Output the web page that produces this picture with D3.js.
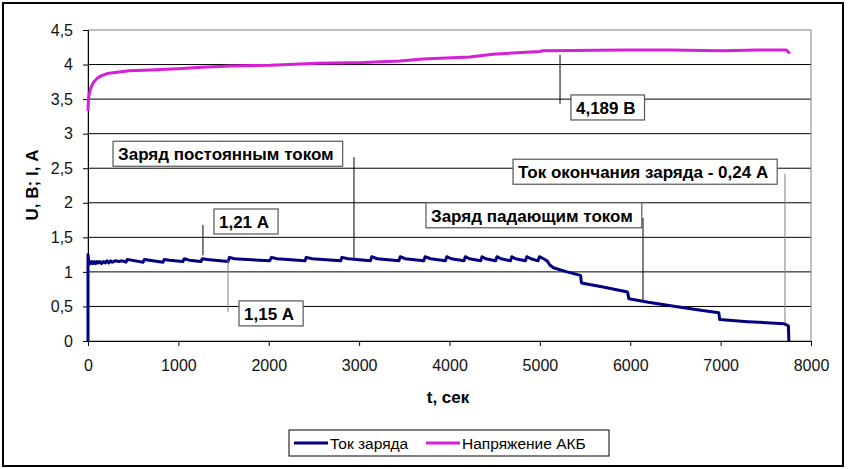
<!DOCTYPE html>
<html>
<head>
<meta charset="utf-8">
<style>
    body { margin: 0; background: #fff; }
    svg { display: block; font-family: "Liberation Sans", Arial, sans-serif; }
    .tick text { font-size: 16px; fill: #111; }
    .ann text { font-size: 17px; font-weight: bold; }
</style>
</head>
<body>
<svg width="848" height="469"></svg>

<script src="https://d3js.org/d3.v7.min.js"></script>
<script>
    // ток заряда, [t сек, I А]
    let currentData = [
        [0, 0], [0, 1.25], [10, 1.14], [25, 1.12], [40, 1.15], [55, 1.12], [70, 1.15], [85, 1.12],
        [100, 1.15], [115, 1.13], [130, 1.15], [150, 1.12], [170, 1.15], [190, 1.13], [210, 1.16],
        [230, 1.13], [250, 1.16], [270, 1.14], [300, 1.16], [340, 1.15], [380, 1.16],
        [420, 1.14], [435, 1.18], [480, 1.17],
        [610, 1.14], [625, 1.18], [680, 1.17],
        [830, 1.14], [845, 1.18], [900, 1.17],
        [1050, 1.15], [1065, 1.19], [1120, 1.17],
        [1250, 1.15], [1265, 1.19], [1320, 1.18],
        [1550, 1.15], [1565, 1.21], [1620, 1.19],
        [2010, 1.16], [2030, 1.21], [2090, 1.19],
        [2400, 1.16], [2415, 1.21], [2480, 1.19],
        [2795, 1.16], [2810, 1.21], [2880, 1.19],
        [3125, 1.16], [3140, 1.22], [3200, 1.19],
        [3440, 1.16], [3455, 1.22], [3510, 1.19],
        [3715, 1.16], [3730, 1.22], [3790, 1.19],
        [3955, 1.16], [3970, 1.22], [4020, 1.19],
        [4160, 1.16], [4175, 1.22], [4220, 1.19],
        [4345, 1.16], [4360, 1.22], [4400, 1.19],
        [4510, 1.16], [4525, 1.22], [4570, 1.19],
        [4675, 1.16], [4690, 1.22], [4730, 1.19],
        [4840, 1.16], [4855, 1.22], [4900, 1.19],
        [4980, 1.16], [4995, 1.22], [5040, 1.19],
        [5080, 1.16], [5110, 1.10], [5150, 1.06], [5300, 1.00], [5450, 0.95], [5460, 0.84],
        [5700, 0.78], [5970, 0.71], [5985, 0.61], [6200, 0.56], [6500, 0.50], [6800, 0.44],
        [6980, 0.41], [6990, 0.31], [7300, 0.28], [7700, 0.25], [7750, 0.22], [7755, 0]
    ]

    // напряжение АКБ, [t сек, U В]
    let voltageData = [
        [0, 3.33], [5, 3.50], [15, 3.58], [30, 3.66], [60, 3.74], [100, 3.80], [150, 3.84],
        [213, 3.87], [324, 3.89], [453, 3.91], [693, 3.92], [988, 3.94], [1265, 3.96],
        [1578, 3.98], [2021, 3.99], [2537, 4.02], [3045, 4.03], [3451, 4.05], [3706, 4.08],
        [4226, 4.11], [4480, 4.15], [5000, 4.19], [5033, 4.20], [5940, 4.21], [6438, 4.21],
        [7024, 4.20], [7400, 4.21], [7728, 4.21], [7765, 4.16]
    ]

    let xTicks = [0, 1000, 2000, 3000, 4000, 5000, 6000, 7000, 8000]
    let yTicks = [0, 0.5, 1, 1.5, 2, 2.5, 3, 3.5, 4, 4.5]
    let seriesNames = ["Ток заряда", "Напряжение АКБ"]
    let seriesColors = ["#000080", "#d81fd8"]

    // подписи: текст, угол рамки (t, U/I), выноска (t, от, до)
    let notes = [
        { text: "4,189 В", bx: 5344, by: 3.56, lx: 5223, ly1: 4.14, ly2: 3.43, lc: "#000" },
        { text: "Ток окончания заряда - 0,24 А", bx: 4703, by: 2.63, lx: 7712, ly1: 2.42, ly2: 0.26, lc: "#808080" },
        { text: "Заряд постоянным током", bx: 277, by: 2.89, lx: 2943, ly1: 2.66, ly2: 1.20, lc: "#000" },
        { text: "1,21 А", bx: 1394, by: 1.91, lx: 1272, ly1: 1.68, ly2: 1.24, lc: "#000" },
        { text: "1,15 А", bx: 1671, by: 0.58, lx: 1549, ly1: 1.17, ly2: 0.42, lc: "#808080" },
        { text: "Заряд падающим током", bx: 3740, by: 2.0, lx: 6141, ly1: 1.78, ly2: 0.59, lc: "#000" }
    ]

    let svg = d3.select("svg")

    let x = d3.scaleLinear().domain([0, 8000]).range([88, 811])
    let y = d3.scaleLinear().domain([0, 4.5]).range([341, 30])

    // рамка диаграммы
    svg.append("rect")
        .attr("x", 3).attr("y", 3).attr("width", 840).attr("height", 463)
        .attr("fill", "white").attr("stroke", "#000").attr("stroke-width", 2)

    // сетка
    svg.append("g")
        .selectAll("line")
        .data(yTicks.filter(d => d > 0 && d < 4.5))
        .join("line")
        .attr("x1", x(0)).attr("x2", x(8000))
        .attr("y1", d => y(d)).attr("y2", d => y(d))
        .attr("stroke", "#000").attr("stroke-width", 1)

    svg.append("rect")
        .attr("x", x(0)).attr("y", y(4.5))
        .attr("width", x(8000) - x(0)).attr("height", y(0) - y(4.5))
        .attr("fill", "none").attr("stroke", "#808080").attr("stroke-width", 1)

    let fmt = d => String(d).replace(".", ",")

    svg.append("g")
        .attr("transform", `translate(0,${y(0)})`)
        .call(d3.axisBottom(x).tickValues(xTicks).tickSize(5).tickPadding(14).tickFormat(d => d))
        .call(g => g.select(".domain").attr("stroke", "#000"))
        .call(g => g.selectAll(".tick text").attr("font-family", null).attr("font-size", null))

    svg.append("g")
        .attr("transform", `translate(${x(0)},0)`)
        .call(d3.axisLeft(y).tickValues(yTicks).tickSize(5).tickPadding(10).tickFormat(fmt))
        .call(g => g.select(".domain").attr("stroke", "#000"))
        .call(g => g.selectAll(".tick text").attr("font-family", null).attr("font-size", null))

    // кривые
    let line = d3.line().x(d => x(d[0])).y(d => y(d[1]))

    svg.append("path")
        .datum(voltageData)
        .attr("d", line)
        .attr("fill", "none")
        .attr("stroke", seriesColors[1])
        .attr("stroke-width", 3)
        .attr("stroke-linejoin", "round")

    svg.append("path")
        .datum(currentData)
        .attr("d", line)
        .attr("fill", "none")
        .attr("stroke", seriesColors[0])
        .attr("stroke-width", 3)
        .attr("stroke-linejoin", "round")

    // выноски и подписи
    let ann = svg.append("g").attr("class", "ann")
    notes.forEach(n => {
        ann.append("line")
            .attr("x1", x(n.lx)).attr("x2", x(n.lx))
            .attr("y1", y(n.ly1)).attr("y2", y(n.ly2))
            .attr("stroke", n.lc).attr("stroke-width", 1)

        let g = ann.append("g").attr("transform", `translate(${x(n.bx)},${y(n.by)})`)
        let r = g.append("rect").attr("fill", "white").attr("stroke", "#555").attr("stroke-width", 1.2)
        let t = g.append("text").attr("x", 5).attr("y", 19).attr("fill", "#000").text(n.text)
        let w = t.node().getComputedTextLength()
        r.attr("x", 0).attr("y", 0).attr("width", w + 14).attr("height", 25)
    })

    // подписи осей
    svg.append("text")
        .attr("x", 448).attr("y", 403)
        .attr("text-anchor", "middle")
        .attr("font-size", 17).attr("font-weight", "bold")
        .text("t, сек")

    svg.append("text")
        .attr("transform", "translate(38,185) rotate(-90)")
        .attr("text-anchor", "middle")
        .attr("font-size", 17).attr("font-weight", "bold")
        .text("U, В; I, А")

    // легенда
    let legend = svg.append("g")
    legend.append("rect")
        .attr("x", 289).attr("y", 430).attr("width", 320).attr("height", 26)
        .attr("fill", "white").attr("stroke", "#000").attr("stroke-width", 1)

    let lx = [294, 426]
    seriesNames.forEach((name, i) => {
        legend.append("line")
            .attr("x1", lx[i]).attr("x2", lx[i] + 34)
            .attr("y1", 443).attr("y2", 443)
            .attr("stroke", seriesColors[i]).attr("stroke-width", 3)
        legend.append("text")
            .attr("x", lx[i] + 36).attr("y", 448.5)
            .attr("font-size", 15.5)
            .text(name)
    })
</script>
</body>
</html>
